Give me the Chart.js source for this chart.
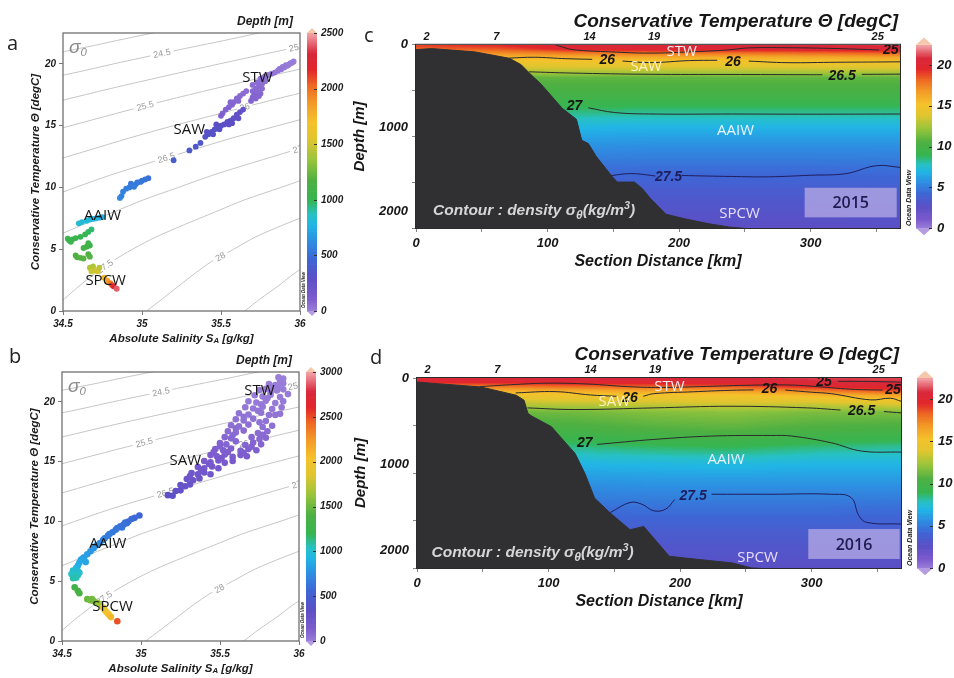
<!DOCTYPE html>
<html lang="en">
<head>
<meta charset="utf-8">
<title>Conservative temperature sections and T-S diagrams</title>
<script src="https://cdn.jsdelivr.net/npm/chart.js@4.4.1/dist/chart.umd.min.js"></script>
<style>
  html, body { margin: 0; padding: 0; background: #ffffff; }
  #page { position: relative; width: 954px; height: 678px; overflow: hidden; background: #ffffff; }
  #page canvas { position: absolute; }
</style>
</head>
<body>
<div id="page">
  <canvas id="tsA" width="350" height="345" style="left:0px;top:0px"></canvas>
  <canvas id="tsB" width="350" height="333" style="left:0px;top:345px"></canvas>
  <canvas id="secC" width="604" height="330" style="left:350px;top:0px"></canvas>
  <canvas id="secD" width="604" height="348" style="left:350px;top:330px"></canvas>
</div>
<script>
// ---------- T-S profiles: [absolute salinity, conservative temperature, depth] ----------
const stw2015 = [
  [35.96,20.2,5],[35.95,20.1,10],[35.94,20.05,10],[35.93,19.95,15],[35.92,19.85,15],[35.91,19.9,20],
  [35.90,19.7,20],[35.89,19.75,25],[35.88,19.55,25],[35.87,19.6,30],[35.86,19.45,30],[35.84,19.3,35],
  [35.82,19.2,40],[35.80,19.1,40],[35.78,19.0,45],[35.77,18.9,45],[35.75,18.8,50],[35.78,18.6,55],
  [35.76,18.4,60],[35.73,18.5,60],[35.74,18.2,65],[35.72,18.0,70],[35.70,17.8,75],[35.73,17.8,75],
  [35.75,17.6,80],[35.71,17.5,85],[35.72,17.2,90],[35.70,18.3,65],[35.69,17.0,95],[35.76,18.0,70],
  [35.74,17.4,85],[35.70,17.3,90]
];
const saw2015 = [
  [35.66,17.8,60],[35.64,17.6,65],[35.62,17.4,70],[35.60,17.2,75],[35.58,16.9,80],[35.57,16.7,85],
  [35.55,16.5,90],[35.53,16.3,95],[35.51,16.0,100],[35.50,15.8,105],[35.61,17.0,80],[35.56,16.9,85],
  [35.64,16.3,260],[35.62,16.1,265],[35.60,15.9,270],[35.61,15.6,275],[35.58,15.6,280],[35.56,15.4,285],
  [35.54,15.3,290],[35.52,15.1,295],[35.55,15.1,295],[35.50,15.0,300],[35.48,14.9,305],[35.49,14.7,310],
  [35.46,14.7,315],[35.44,14.5,320],[35.45,14.3,325],[35.42,14.3,330],[35.40,14.1,335],[35.41,14.5,325],
  [35.47,15.1,300],[35.57,15.2,290],
  [35.37,13.6,360],[35.34,13.3,370],[35.30,13.0,380],[35.20,12.2,410]
];
const int2015 = [
  [35.04,10.75,520],[35.02,10.65,525],[35.00,10.55,530],[34.99,10.45,540],[34.97,10.4,545],[34.96,10.25,550],
  [34.94,10.15,555],[34.93,10.3,550],[34.92,10.0,560],[34.95,10.05,560],[34.90,9.9,570],[34.88,9.65,580],
  [34.87,9.3,590],[34.86,9.15,600]
];
const aaiw2015 = [
  [34.75,7.6,760],[34.73,7.55,770],[34.71,7.5,780],[34.69,7.45,790],[34.67,7.4,800],[34.65,7.3,810],
  [34.62,7.2,820],[34.60,7.1,830],
  [34.68,6.6,960],[34.66,6.4,980],[34.64,6.2,1000],[34.61,6.0,1010],[34.58,5.9,1020],[34.56,5.8,1030],
  [34.54,5.7,1040],[34.53,5.85,1030],[34.55,5.6,1050],[34.66,5.5,1060],[34.65,5.2,1080],[34.63,5.1,1090],
  [34.67,5.3,1070],
  [34.58,4.5,1160],[34.59,4.35,1180],[34.61,4.3,1190],[34.63,4.25,1200],[34.66,4.6,1170],[34.67,4.4,1190]
];
const spcw2015 = [
  [34.67,3.5,1440],[34.69,3.6,1420],[34.70,3.3,1480],[34.72,3.2,1520],[34.68,3.2,1500],[34.73,3.5,1460],
  [34.76,2.7,1750],[34.78,2.45,1850],[34.80,2.25,1950],[34.81,2.1,2100],[34.82,2.0,2200],[34.84,1.8,2400]
];

const stw2016 = [
  [35.87,22.05,5],[35.90,21.95,5],[35.88,21.75,8],
  [35.81,21.5,10],[35.85,21.4,10],[35.90,21.55,10],[35.83,21.2,12],[35.87,21.25,12],
  [35.75,21.0,15],[35.79,21.1,15],[35.86,20.95,15],[35.90,21.05,15],[35.82,20.85,18],
  [35.72,20.55,20],[35.77,20.45,20],[35.82,20.6,20],[35.88,20.4,20],[35.93,20.65,20],[35.80,20.3,22],
  [35.68,20.05,25],[35.73,19.95,25],[35.79,20.1,25],[35.85,19.9,25],[35.90,20.05,25],[35.76,19.8,30],
  [35.66,19.55,35],[35.71,19.45,35],[35.77,19.6,35],[35.83,19.4,35],[35.89,19.55,35],[35.74,19.25,40],
  [35.62,19.05,45],[35.68,18.95,45],[35.76,19.1,45],[35.81,18.9,45],[35.88,19.0,45],[35.65,18.75,50],
  [35.60,18.55,55],[35.65,18.45,55],[35.71,18.6,55],[35.79,18.4,55],[35.85,18.9,50],[35.75,18.3,60],
  [35.57,18.05,65],[35.62,17.95,65],[35.68,18.1,65],[35.77,17.9,65],[35.83,18.0,65],[35.60,17.8,70]
];
const saw2016 = [
  [35.55,17.55,80],[35.60,17.45,80],[35.65,17.6,80],[35.74,17.4,80],[35.80,17.55,80],[35.58,17.2,88],
  [35.53,17.05,95],[35.57,16.95,95],[35.70,17.05,95],[35.75,16.9,95],[35.79,17.0,95],[35.77,17.25,88],
  [35.50,16.55,110],[35.54,16.45,110],[35.66,16.4,110],[35.71,16.6,110],[35.76,16.45,110],[35.60,16.7,105],
  [35.47,16.05,125],[35.52,15.95,125],[35.57,16.1,125],[35.63,15.9,125],[35.68,16.05,125],[35.73,15.95,125],
  [35.50,16.3,118],[35.70,16.25,118],
  [35.44,15.55,145],[35.48,15.45,145],[35.53,15.6,145],[35.58,15.4,145],[35.63,15.55,145],[35.67,15.45,145],
  [35.46,15.8,135],[35.55,15.8,135],[35.65,15.75,135],
  [35.40,15.05,165],[35.44,14.95,165],[35.49,15.1,165],[35.53,14.9,165],[35.58,15.05,165],[35.51,15.3,155],
  [35.36,14.55,190],[35.40,14.45,190],[35.45,14.6,190],[35.49,14.45,190],[35.43,14.8,178],
  [35.32,14.05,215],[35.36,13.95,215],[35.40,14.1,215],[35.44,13.95,215],[35.38,14.3,200],
  [35.29,13.55,245],[35.33,13.45,245],[35.37,13.6,245],[35.31,13.8,230],
  [35.25,13.05,275],[35.28,12.95,275],[35.31,13.1,275],
  [35.22,12.55,310],[35.25,12.6,310],
  [35.17,12.2,340],[35.20,12.15,340]
];
const int2016 = [
  [34.99,10.5,560],[34.96,10.3,580],[34.94,10.2,590],[34.92,10.0,600],[34.91,9.85,615],[34.90,9.9,610],
  [34.89,9.75,620],[34.88,9.5,640],[34.87,9.6,630],[34.85,9.45,640],[34.84,9.3,650],[34.82,9.1,660],
  [34.80,8.95,670],[34.79,8.8,680],[34.77,8.6,690],[34.76,8.45,700]
];
const aaiw2016 = [
  [34.74,8.2,740],[34.72,8.0,760],[34.70,7.75,780],[34.68,7.5,800],[34.66,7.25,820],[34.64,7.0,840],
  [34.63,6.9,850],[34.62,6.8,860],[34.65,6.6,870],[34.61,6.55,880],[34.60,6.3,900],[34.59,6.1,920],
  [34.60,5.85,990],[34.57,5.9,1000],[34.61,5.7,1010],[34.58,5.7,1020],[34.56,5.6,1030],[34.60,5.5,1040],
  [34.58,5.45,1050],[34.59,5.3,1070],[34.57,5.25,1080]
];
const spcw2016 = [
  [34.58,4.5,1300],[34.60,4.2,1350],[34.61,4.0,1380],
  [34.66,3.5,1500],[34.68,3.4,1530],[34.70,3.35,1560],[34.72,3.2,1600],[34.74,3.1,1650],[34.69,3.5,1520],
  [34.76,2.8,1850],[34.77,2.6,1900],[34.78,2.45,1950],[34.79,2.3,2000],[34.80,2.15,2050],[34.81,2.0,2100],
  [34.85,1.65,2500]
];

// isopycnals sigma0 in (S_A, Theta)
const iso240 = [[34.32,20.5],[34.51,21.0],[34.70,21.5],[34.88,22.0],[35.07,22.5],[35.27,23.0]];
const iso245 = [[34.47,19.0],[34.65,19.5],[34.82,20.0],[35.00,20.5],[35.18,21.0],[35.37,21.5],[35.56,22.0],[35.74,22.5],[35.95,23.0],[36.14,23.5]];
const iso250 = [[34.32,16.5],[34.48,17.0],[34.80,18.0],[35.14,19.0],[35.49,20.0],[35.85,21.0],[36.22,22.0]];
const iso255 = [[34.26,14.0],[34.55,15.0],[34.84,16.0],[35.14,17.0],[35.46,18.0],[35.80,19.0],[36.15,20.0]];
const iso260 = [[34.40,12.0],[34.66,13.0],[34.92,14.0],[35.20,15.0],[35.50,16.0],[35.80,17.0],[36.12,18.0]];
const iso265 = [[34.37,9.0],[34.58,10.0],[34.80,11.0],[35.05,12.0],[35.31,13.0],[35.57,14.0],[35.86,15.0],[36.15,16.0]];
const iso270 = [[34.31,5.0],[34.45,6.0],[34.63,7.0],[34.82,8.0],[35.01,9.0],[35.23,10.0],[35.45,11.0],[35.70,12.0],[35.96,13.0],[36.22,14.0]];
const iso275 = [[34.41,0],[34.51,1],[34.60,2],[34.70,3],[34.81,4],[34.94,5],[35.09,6],[35.27,7],[35.46,8],[35.65,9],[35.88,10],[36.10,11]];
const iso280 = [[35.03,0],[35.13,1],[35.23,2],[35.33,3],[35.44,4],[35.58,5],[35.72,6],[35.90,7],[36.10,8]];
const iso285 = [[35.65,0],[35.75,1],[35.86,2],[35.96,3],[36.08,4]];
const isopycnals = [
  { sigma: 24, pts: iso240 }, { sigma: 24.5, pts: iso245 }, { sigma: 25, pts: iso250 },
  { sigma: 25.5, pts: iso255 }, { sigma: 26, pts: iso260 }, { sigma: 26.5, pts: iso265 },
  { sigma: 27, pts: iso270 }, { sigma: 27.5, pts: iso275 }, { sigma: 28, pts: iso280 },
  { sigma: 28.5, pts: iso285 }
];
// [sigma, theta where the label sits]
const isoLabels = [[24.5,20.85],[25,21.3],[25.5,16.6],[26,16.5],[26.5,12.4],[27,13.1],[27.5,3.6],[28,4.4]];

const massTS2015 = [['STW',35.73,18.9],['SAW',35.30,14.7],['AAIW',34.75,7.7],['SPCW',34.77,2.45]];
const massTS2016 = [['STW',35.75,20.9],['SAW',35.28,15.1],['AAIW',34.79,8.1],['SPCW',34.82,2.9]];

// ---------- sections: temperature grid (rows = depth, columns = distance) ----------
const secKm = [0, 60, 120, 180, 240, 300, 368];
const secDepth = [0, 50, 100, 150, 200, 300, 400, 600, 800, 1000, 1200, 1500, 1800, 2200];
const temp2015 = [
  [19.2,19.6,20.8,21.0,20.9,21.0,21.2],
  [18.4,18.6,20.0,20.2,20.2,20.4,20.6],
  [17.0,17.2,17.8,18.0,18.0,18.2,18.5],
  [15.8,15.8,16.1,16.2,16.1,16.3,16.5],
  [14.9,14.9,15.1,15.1,15.1,15.2,15.3],
  [13.2,13.2,13.3,13.3,13.3,13.3,13.4],
  [11.0,11.0,11.0,11.0,11.0,11.0,11.0],
  [10.0,10.0,10.0,10.0,10.0,10.0,10.0],
  [8.6,8.6,8.6,8.5,8.5,8.5,8.5],
  [7.0,7.0,7.0,6.9,6.9,6.9,6.9],
  [6.0,6.0,5.9,5.8,5.8,5.8,5.8],
  [4.6,4.6,4.6,4.5,4.5,4.5,4.6],
  [3.6,3.6,3.6,3.5,3.5,3.5,3.6],
  [2.6,2.6,2.6,2.6,2.6,2.6,2.7]
];
const temp2016 = [
  [20.8,21.0,21.0,21.0,20.9,21.2,21.3],
  [19.6,19.8,20.2,20.0,20.3,20.8,21.0],
  [17.4,17.8,18.2,18.4,18.6,19.6,20.4],
  [15.8,16.0,16.2,16.4,16.6,17.6,19.0],
  [14.8,14.8,15.0,15.1,15.2,15.8,16.6],
  [13.0,13.0,13.2,13.4,13.6,13.4,14.0],
  [11.2,11.2,11.4,11.8,12.0,11.6,11.6],
  [10.0,10.0,10.2,10.6,10.8,10.4,10.2],
  [8.4,8.4,8.5,8.8,9.0,8.6,8.3],
  [7.0,7.0,7.0,7.1,7.2,7.0,7.0],
  [5.9,5.9,5.9,6.0,6.0,6.0,6.0],
  [4.6,4.6,4.6,4.7,4.7,4.7,4.6],
  [3.6,3.6,3.6,3.6,3.6,3.6,3.6],
  [2.7,2.7,2.7,2.7,2.7,2.7,2.7]
];

// seafloor [km, depth]
const bathy2015 = [[0,58],[12,46],[44.5,85],[71,162],[80,240],[86,337],[95,472],[102.5,607],[111,762],[122,897],
  [126,1149],[131,1188],[137,1342],[148.5,1574],[153,1652],[166,1652],[172,1729],[178,1845],[190,2039],
  [205,2097],[223,2155],[238,2193],[252,2213],[368,2300]];
const bathy2016 = [[0,46],[15.8,66],[48.6,104],[75.5,200],[81.4,258],[84.4,412],[87.4,443],[102.3,566],
  [111.2,721],[120.2,875],[127.6,1106],[135.1,1395],[147,1568],[162,1761],[172.4,1723],[191.8,2069],
  [203.7,2089],[239.5,2146],[254.4,2204],[368,2300]];

// density contours [km, depth]; null breaks the line around a label
const rho2015_250 = [[106,0],[112,30],[120,60],[148,85],[178,100],[208,85],[237,62],[252,38],[282,35],[320,45],[352,62]];
const rho2015_260 = [[71,160],[90,150],[114,167],[134,175],null,[157,195],[178,214],[208,190],[229,186],null,
  [253,196],[282,215],[320,210],[368,205]];
const rho2015_265 = [[86,325],[118,340],[178,355],[238,357],[300,360],[309,360],null,[339,356],[368,353]];
const rho2015_270 = [[131,758],[151,815],[181,833],[240,833],[300,835],[368,833]];
const rho2015_275 = [[148.5,1574],[163,1550],[178,1570],[182,1580],null,[202,1573],[240,1585],[268,1589],
  [300,1570],[327,1550],[350,1455],[368,1475]];
const rho2016_250 = [[48,100],[75,75],[100,60],[130,70],[160,100],[185,110],[215,100],[250,85],[280,80],
  [300,95],[330,130],[354,140]];
const rho2016_251 = [[320,38],[345,40],[368,48]];
const rho2016_260 = [[75,173],[105,158],[132,197],[152,212],null,[172,212],[180,182],[210,160],[238,143],[256,138],null,
  [280,140],[300,165],[315,182],[345,254],[360,235],[368,270]];
const rho2016_265 = [[84,347],[120,366],[180,347],[238,328],[297,347],[322,372],null,[355,389],[368,405]];
const rho2016_270 = [[137,771],[180,713],[224,674],[269,667],[285,674],[315,752],[338,848],[368,860]];
const rho2016_275 = [[147,1561],[162,1445],[171,1465],[180,1541],[189,1522],[196,1410],null,[224,1349],
  [269,1349],[315,1349],[330,1387],[336,1599],[342,1676],[368,1695]];

const rhoLabels2015 = [['25',361,62],['26',145.5,188],['26',241,208],['26.5',324,372],['27',120.5,742],['27.5',192,1590]];
const rhoLabels2016 = [['25',309.5,44],['25',362,142],['26',162,232],['26',268,134],['26.5',338,390],['27',127.5,758],['27.5',210,1374]];

const massSec2015 = [['STW',202,85],['SAW',175,259],['AAIW',243,1040],['SPCW',246,2039]];
const massSec2016 = [['STW',192,104],['SAW',150,277],['AAIW',235,952],['SPCW',259,2081]];

const stationKm = [8, 61, 132, 181, 351];
const stationNo = ['2', '7', '14', '19', '25'];
const depthTicks = [0, 1000, 2000];

// year box: [km from, km to, depth from, depth to]
const box2015 = [295.5, 365.5, 1721, 2077];
const box2016 = [297.5, 367, 1753, 2100];

const TEMP_MAX = 22.5;
const DEPTH_MAX_2015 = 2500;
const DEPTH_MAX_2016 = 3000;

// ---------- drawing helpers ----------
const FONT = "'Liberation Sans', Arial, Helvetica, sans-serif";
const SANS = "'Open Sans', 'Noto Sans', sans-serif";
Chart.defaults.font.family = FONT;
Chart.defaults.color = '#1b1b1b';

function bi(size) { return { family: FONT, size: size, style: 'italic', weight: 'bold' }; }
const biFont = sz => `italic bold ${sz}px ${FONT}`;
const plain = v => String(v);

// Ocean Data View style palette
const odvStops = [
  [0.00, '#9b80d9'], [0.05, '#7b5acd'], [0.12, '#5b4fc5'], [0.19, '#3e66d5'],
  [0.25, '#2e8ce1'], [0.31, '#21b5e6'], [0.35, '#27c1c4'], [0.40, '#36b551'],
  [0.47, '#4db042'], [0.55, '#9dc53b'], [0.62, '#e1c52f'], [0.68, '#f5c22b'],
  [0.75, '#f39a27'], [0.81, '#ee6b23'], [0.87, '#e2272b'], [0.93, '#d9283c'], [1.00, '#f2a3a8']
];
const stopRgb = odvStops.map(([f, h]) => [f, [1, 3, 5].map(k => parseInt(h.slice(k, k + 2), 16))]);
function odvRgb(f) {
  f = Math.min(1, Math.max(0, f));
  for (let i = 1; i < stopRgb.length; i++) {
    if (f <= stopRgb[i][0]) {
      const [f0, c0] = stopRgb[i - 1], [f1, c1] = stopRgb[i];
      const u = (f - f0) / (f1 - f0);
      return c0.map((v, k) => Math.round(v + (c1[k] - v) * u));
    }
  }
  return stopRgb[stopRgb.length - 1][1];
}
function odvColor(f) { const c = odvRgb(f); return `rgb(${c[0]},${c[1]},${c[2]})`; }

function drawRich(ctx, parts, x, y, size, fontFn, align) {
  const widths = parts.map(([t, sc]) => { ctx.font = fontFn(size * sc); return ctx.measureText(t).width; });
  const total = widths.reduce((p, q) => p + q, 0);
  let cx = align === 'center' ? x - total / 2 : x;
  ctx.textAlign = 'left';
  parts.forEach(([t, sc, sh], i) => {
    ctx.font = fontFn(size * sc);
    ctx.fillText(t, cx, y + sh * size);
    cx += widths[i];
  });
}

function drawColorbar(chart, x0, w) {
  const { ctx } = chart;
  const s = chart.scales.cb;
  const top = s.getPixelForValue(s.max), bot = s.getPixelForValue(s.min);
  const n = 160;
  for (let k = 0; k < n; k++) {
    const v0 = s.min + (s.max - s.min) * k / n, v1 = s.min + (s.max - s.min) * (k + 1) / n;
    const y0 = s.getPixelForValue(v0), y1 = s.getPixelForValue(v1);
    ctx.fillStyle = odvColor((k + 0.5) / n);
    ctx.fillRect(x0, y1, w, y0 - y1 + 0.7);
  }
  const cap = Math.max(5, w * 0.45);
  ctx.fillStyle = '#f6c7ab';
  ctx.beginPath(); ctx.moveTo(x0, top); ctx.lineTo(x0 + w / 2, top - cap); ctx.lineTo(x0 + w, top); ctx.closePath(); ctx.fill();
  ctx.fillStyle = '#b59ce0';
  ctx.beginPath(); ctx.moveTo(x0, bot); ctx.lineTo(x0 + w / 2, bot + cap); ctx.lineTo(x0 + w, bot); ctx.closePath(); ctx.fill();
  ctx.strokeStyle = '#333';
  ctx.lineWidth = 1;
  s.ticks.forEach(t => {
    const y = Math.round(s.getPixelForValue(t.value)) + 0.5;
    ctx.beginPath(); ctx.moveTo(x0 + w - 3, y); ctx.lineTo(x0 + w, y); ctx.stroke();
  });
}

function odvTag(ctx, x, y, size) {
  ctx.save();
  ctx.translate(x, y);
  ctx.rotate(-Math.PI / 2);
  ctx.font = biFont(size);
  ctx.fillStyle = '#222';
  ctx.textAlign = 'left';
  ctx.textBaseline = 'middle';
  ctx.fillText('Ocean Data View', 0, 0);
  ctx.restore();
}

// ---------- T-S diagram ----------
function isoSalinity(iso, t) {
  for (let i = 1; i < iso.length; i++) {
    if (t <= iso[i][1]) {
      const u = (t - iso[i - 1][1]) / (iso[i][1] - iso[i - 1][1]);
      return iso[i - 1][0] + (iso[i][0] - iso[i - 1][0]) * u;
    }
  }
  return iso[iso.length - 1][0];
}

function tsDecor(cfg) {
  return {
    id: 'tsDecor',
    beforeDatasetDraw(chart, args) {
      if (args.index !== chart.data.datasets.length - 1) return;
      // isopycnal labels, underneath the profile dots
      const { ctx, chartArea: a, scales: { x, y } } = chart;
      ctx.save();
      ctx.beginPath(); ctx.rect(a.left, a.top, a.width, a.height); ctx.clip();
      ctx.font = `9px ${FONT}`;
      ctx.textAlign = 'center';
      ctx.textBaseline = 'middle';
      isoLabels.forEach(([sig, t]) => {
        const iso = isopycnals.find(i => i.sigma === sig).pts;
        const s = isoSalinity(iso, t);
        const px = x.getPixelForValue(s), py = y.getPixelForValue(t);
        const qx = x.getPixelForValue(isoSalinity(iso, t + 0.5)), qy = y.getPixelForValue(t + 0.5);
        const ang = Math.atan2(qy - py, qx - px);
        const txt = String(sig);
        const w = ctx.measureText(txt).width;
        ctx.save();
        ctx.translate(px, py);
        ctx.rotate(ang);
        ctx.fillStyle = '#ffffff';
        ctx.fillRect(-w / 2 - 3, -5, w + 6, 10);
        ctx.fillStyle = '#9a9a9a';
        ctx.fillText(txt, 0, 0.5);
        ctx.restore();
      });
      ctx.restore();
    },
    afterDatasetsDraw(chart) {
      const { ctx, scales: { x, y } } = chart;
      ctx.save();
      ctx.font = `15px ${SANS}`;
      ctx.fillStyle = '#151515';
      ctx.textAlign = 'center';
      ctx.textBaseline = 'middle';
      cfg.masses.forEach(([txt, s, t]) => ctx.fillText(txt, x.getPixelForValue(s), y.getPixelForValue(t)));
      ctx.restore();
    },
    afterDraw(chart) {
      const { ctx, chartArea: a } = chart;
      ctx.save();
      ctx.strokeStyle = '#707070';
      ctx.lineWidth = 1.3;
      ctx.strokeRect(a.left, a.top, a.width, a.height);
      drawColorbar(chart, a.right + 7, 10);
      odvTag(ctx, a.right + 3.5, a.bottom - 3, 4.5);

      ctx.fillStyle = '#1b1b1b';
      ctx.textBaseline = 'middle';
      ctx.font = biFont(12);
      ctx.textAlign = 'right';
      ctx.fillText('Depth [m]', a.right - 7, a.top - 11);

      ctx.save();
      ctx.translate(a.left - 27, (a.top + a.bottom) / 2);
      ctx.rotate(-Math.PI / 2);
      ctx.font = biFont(11.5);
      ctx.textAlign = 'center';
      ctx.fillText('Conservative Temperature \u0398 [degC]', 0, 0);
      ctx.restore();

      drawRich(ctx, [['Absolute Salinity S', 1, 0], ['A', 0.68, 0.18], [' [g/kg]', 1, 0]],
        (a.left + a.right) / 2, a.bottom + 28, 11.5, biFont, 'center');

      ctx.fillStyle = '#8c8c8c';
      drawRich(ctx, [['\u03c3', 1, 0], ['0', 0.6, 0.25]], a.left + 6, a.top + 15, 19,
        sz => `italic ${sz}px ${FONT}`, 'left');

      ctx.fillStyle = '#222';
      ctx.font = `20px ${SANS}`;
      ctx.textAlign = 'left';
      ctx.fillText(cfg.letter, cfg.letterPos[0], cfg.letterPos[1]);
      ctx.restore();
    }
  };
}

function buildTS(cfg) {
  const canvas = document.getElementById(cfg.canvas);
  const W = canvas.width, H = canvas.height, A = cfg.area;
  const pts = [].concat(...cfg.groups);
  const datasets = isopycnals.map(iso => ({
    data: iso.pts.map(p => ({ x: p[0], y: p[1] })),
    showLine: true, borderColor: '#c6c6c6', borderWidth: 1, pointRadius: 0, tension: 0.3, order: 1
  }));
  datasets.push({
    data: pts.map(p => ({ x: p[0], y: p[1] })),
    pointRadius: cfg.radius, pointBorderWidth: 0,
    pointBackgroundColor: pts.map(p => odvColor(p[2] / cfg.depthMax)),
    order: 0
  });
  return new Chart(canvas, {
    type: 'scatter',
    data: { datasets },
    options: {
      responsive: false, animation: false, events: [],
      layout: { padding: { top: A.top, left: 0, right: 0, bottom: 0 } },
      plugins: { legend: { display: false }, tooltip: { enabled: false } },
      scales: {
        x: {
          type: 'linear', min: 34.5, max: 36,
          afterFit: s => { s.height = H - A.bottom; },
          ticks: { stepSize: 0.5, includeBounds: false, font: bi(10), padding: 3, color: '#1b1b1b', callback: plain },
          grid: { drawOnChartArea: false, tickLength: 4, color: '#777' },
          border: { display: false }
        },
        y: {
          type: 'linear', min: 0, max: 22.5,
          afterFit: s => { s.width = A.left; },
          ticks: { stepSize: 5, includeBounds: false, font: bi(10), padding: 3, color: '#1b1b1b', callback: plain },
          grid: { drawOnChartArea: false, tickLength: 4, color: '#777' },
          border: { display: false }
        },
        cb: {
          type: 'linear', position: 'right', min: 0, max: cfg.depthMax,
          afterFit: s => { s.width = W - A.right; },
          ticks: { stepSize: 500, includeBounds: false, font: bi(10), padding: 21, color: '#1b1b1b', callback: plain },
          grid: { display: false, drawTicks: false },
          border: { display: false }
        }
      }
    },
    plugins: [tsDecor(cfg)]
  });
}

// ---------- temperature sections ----------
function bracket(arr, v) {
  if (v <= arr[0]) return [0, 0];
  for (let i = 1; i < arr.length; i++) {
    if (v <= arr[i]) return [i - 1, (v - arr[i - 1]) / (arr[i] - arr[i - 1])];
  }
  return [arr.length - 2, 1];
}
function sampleGrid(grid, km, d) {
  const [i, u] = bracket(secKm, km);
  const [j, v] = bracket(secDepth, d);
  const top = grid[j][i] * (1 - u) + grid[j][i + 1] * u;
  const bot = grid[j + 1][i] * (1 - u) + grid[j + 1][i + 1] * u;
  return top * (1 - v) + bot * v;
}

function drawField(chart, grid) {
  const { ctx, chartArea: a, scales: { x, y } } = chart;
  const L = Math.round(a.left), T = Math.round(a.top);
  const w = Math.round(a.right) - L, h = Math.round(a.bottom) - T;
  const img = ctx.createImageData(w, h);
  const lut = [];
  for (let k = 0; k <= 255; k++) lut.push(odvRgb(k / 255));
  for (let j = 0; j < h; j++) {
    const d = y.getValueForPixel(T + j + 0.5);
    for (let i = 0; i < w; i++) {
      const km = x.getValueForPixel(L + i + 0.5);
      const t = sampleGrid(grid, km, d);
      const c = lut[Math.max(0, Math.min(255, Math.round(t / TEMP_MAX * 255)))];
      const o = (j * w + i) * 4;
      img.data[o] = c[0]; img.data[o + 1] = c[1]; img.data[o + 2] = c[2]; img.data[o + 3] = 255;
    }
  }
  ctx.putImageData(img, L, T);
}

function splitSegs(pts) {
  const segs = [[]];
  pts.forEach(p => { if (p === null) segs.push([]); else segs[segs.length - 1].push(p); });
  return segs.filter(s => s.length > 1);
}

const massColor = { STW: '#f6ecec', SAW: '#fbf2c4', AAIW: '#e8f4ff', SPCW: '#e9defd' };

function sectionDecor(cfg) {
  return {
    id: 'sectionDecor',
    beforeDatasetsDraw(chart) { drawField(chart, cfg.temp); },
    afterDatasetsDraw(chart) {
      const { ctx, chartArea: a, scales: { x, y } } = chart;
      ctx.save();
      ctx.beginPath(); ctx.rect(a.left, a.top, a.width, a.height); ctx.clip();
      ctx.textAlign = 'center';
      ctx.textBaseline = 'middle';

      const [k0, k1, d0, d1] = cfg.box;
      const bx0 = x.getPixelForValue(k0), bx1 = x.getPixelForValue(k1);
      const by0 = y.getPixelForValue(d0), by1 = y.getPixelForValue(d1);
      ctx.fillStyle = 'rgba(176,166,228,0.8)';
      ctx.fillRect(bx0, by0, bx1 - bx0, by1 - by0);
      ctx.fillStyle = '#1d1b4f';
      ctx.font = `600 16px ${SANS}`;
      ctx.fillText(cfg.year, (bx0 + bx1) / 2, (by0 + by1) / 2 + 1);

      ctx.font = biFont(14);
      cfg.labels.forEach(([txt, km, d]) => {
        ctx.fillStyle = txt === '27.5' ? '#1f1d5e' : '#151515';
        ctx.fillText(txt, x.getPixelForValue(km), y.getPixelForValue(d));
      });

      ctx.font = `15px ${SANS}`;
      cfg.masses.forEach(([txt, km, d]) => {
        ctx.fillStyle = massColor[txt];
        ctx.fillText(txt, x.getPixelForValue(km), y.getPixelForValue(d));
      });

      ctx.fillStyle = '#d6d6d6';
      drawRich(ctx, [['Contour : density \u03c3', 1, 0], ['\u03b8', 0.78, 0.3], ['(kg/m', 1, 0], ['3', 0.7, -0.3], [')', 1, 0]],
        x.getPixelForValue(cfg.note[0]), y.getPixelForValue(cfg.note[1]), 15.5, biFont, 'left');
      ctx.restore();
    },
    afterDraw(chart) {
      const { ctx, chartArea: a, scales: { x, y } } = chart;
      ctx.save();
      ctx.strokeStyle = '#2b2b2b';
      ctx.lineWidth = 1;
      ctx.strokeRect(a.left - 0.5, a.top - 0.5, a.width + 1, a.height + 1);
      drawColorbar(chart, a.right + 16, 16);
      odvTag(ctx, a.right + 9, a.bottom - 2, 7);

      ctx.fillStyle = '#161616';
      ctx.textBaseline = 'middle';

      // depth tick labels
      ctx.font = biFont(13);
      ctx.textAlign = 'right';
      depthTicks.forEach(d => ctx.fillText(String(d), a.left - 8, y.getPixelForValue(d)));

      ctx.font = biFont(19);
      ctx.fillText('Conservative Temperature \u0398 [degC]', a.right - 2, a.top - 23);

      ctx.font = biFont(11);
      ctx.textAlign = 'center';
      stationKm.forEach((km, i) => ctx.fillText(stationNo[i], x.getPixelForValue(km), a.top - 8));

      ctx.font = biFont(16);
      ctx.fillText('Section Distance [km]', (a.left + a.right) / 2, a.bottom + 34);
      ctx.font = biFont(15);
      ctx.save();
      ctx.translate(a.left - 56, (a.top + a.bottom) / 2);
      ctx.rotate(-Math.PI / 2);
      ctx.fillText('Depth [m]', 0, 0);
      ctx.restore();

      ctx.fillStyle = '#222';
      ctx.font = `20px ${SANS}`;
      ctx.textAlign = 'left';
      ctx.fillText(cfg.letter, cfg.letterPos[0], cfg.letterPos[1]);
      ctx.restore();
    }
  };
}

function buildSection(cfg) {
  const canvas = document.getElementById(cfg.canvas);
  const W = canvas.width, H = canvas.height, A = cfg.area;
  const datasets = [];
  cfg.contours.forEach(c => splitSegs(c.pts).forEach(seg => datasets.push({
    data: seg.map(p => ({ x: p[0], y: p[1] })),
    borderColor: c.color, borderWidth: 1, pointRadius: 0, tension: 0.4, fill: false, order: 1
  })));
  datasets.push({
    data: cfg.bathy.map(p => ({ x: p[0], y: p[1] })),
    borderColor: '#303033', backgroundColor: '#303033', borderWidth: 1,
    pointRadius: 0, tension: 0, fill: { value: 2400 }, order: 0
  });
  return new Chart(canvas, {
    type: 'line',
    data: { datasets },
    options: {
      responsive: false, animation: false, events: [],
      layout: { padding: { top: A.top, left: 0, right: 0, bottom: 0 } },
      plugins: { legend: { display: false }, tooltip: { enabled: false } },
      scales: {
        x: {
          type: 'linear', min: 0, max: 368,
          afterFit: s => { s.height = H - A.bottom; },
          ticks: { stepSize: 50, includeBounds: false, autoSkip: false, maxRotation: 0, font: bi(13), padding: 4,
            color: '#161616', callback: v => (v % 100 === 0 ? String(v) : '') },
          grid: { drawOnChartArea: false, tickLength: 4, color: '#888' },
          border: { display: false }
        },
        y: {
          type: 'linear', reverse: true, min: 0, max: 2205,
          afterFit: s => { s.width = A.left; },
          ticks: { stepSize: 500, includeBounds: false, autoSkip: false, font: bi(13), padding: 4,
            color: '#161616', callback: () => '' },
          grid: { drawOnChartArea: false, tickLength: 4, color: '#888' },
          border: { display: false }
        },
        cb: {
          type: 'linear', position: 'right', min: 0, max: TEMP_MAX,
          afterFit: s => { s.width = W - A.right; },
          ticks: { stepSize: 5, includeBounds: false, font: bi(13), padding: 37, color: '#161616', callback: plain },
          grid: { display: false, drawTicks: false },
          border: { display: false }
        }
      }
    },
    plugins: [sectionDecor(cfg)]
  });
}

// ---------- the four panels ----------
buildTS({
  canvas: 'tsA', area: { left: 63, right: 300, top: 33, bottom: 311 },
  groups: [stw2015, saw2015, int2015, aaiw2015, spcw2015],
  depthMax: DEPTH_MAX_2015, radius: 2.9, masses: massTS2015,
  letter: 'a', letterPos: [7, 44]
});
buildTS({
  canvas: 'tsB', area: { left: 62, right: 299, top: 22, bottom: 296 },
  groups: [stw2016, saw2016, int2016, aaiw2016, spcw2016],
  depthMax: DEPTH_MAX_2016, radius: 3.3, masses: massTS2016,
  letter: 'b', letterPos: [9, 12]
});

const line = '#2a2a2a', navy = '#1f1d5e';
buildSection({
  canvas: 'secC', area: { left: 66, right: 550, top: 38, bottom: 228 },
  temp: temp2015, bathy: bathy2015,
  contours: [
    { pts: rho2015_250, color: line }, { pts: rho2015_260, color: line }, { pts: rho2015_265, color: line },
    { pts: rho2015_270, color: line }, { pts: rho2015_275, color: navy }
  ],
  labels: rhoLabels2015, masses: massSec2015, note: [13, 2000],
  box: box2015, year: '2015', letter: 'c', letterPos: [14, 36]
});
buildSection({
  canvas: 'secD', area: { left: 67, right: 551, top: 48, bottom: 238 },
  temp: temp2016, bathy: bathy2016,
  contours: [
    { pts: rho2016_250, color: line }, { pts: rho2016_251, color: line }, { pts: rho2016_260, color: line },
    { pts: rho2016_265, color: line }, { pts: rho2016_270, color: line }, { pts: rho2016_275, color: navy }
  ],
  labels: rhoLabels2016, masses: massSec2016, note: [11, 2031],
  box: box2016, year: '2016', letter: 'd', letterPos: [20, 28]
});
</script>
</body>
</html>
